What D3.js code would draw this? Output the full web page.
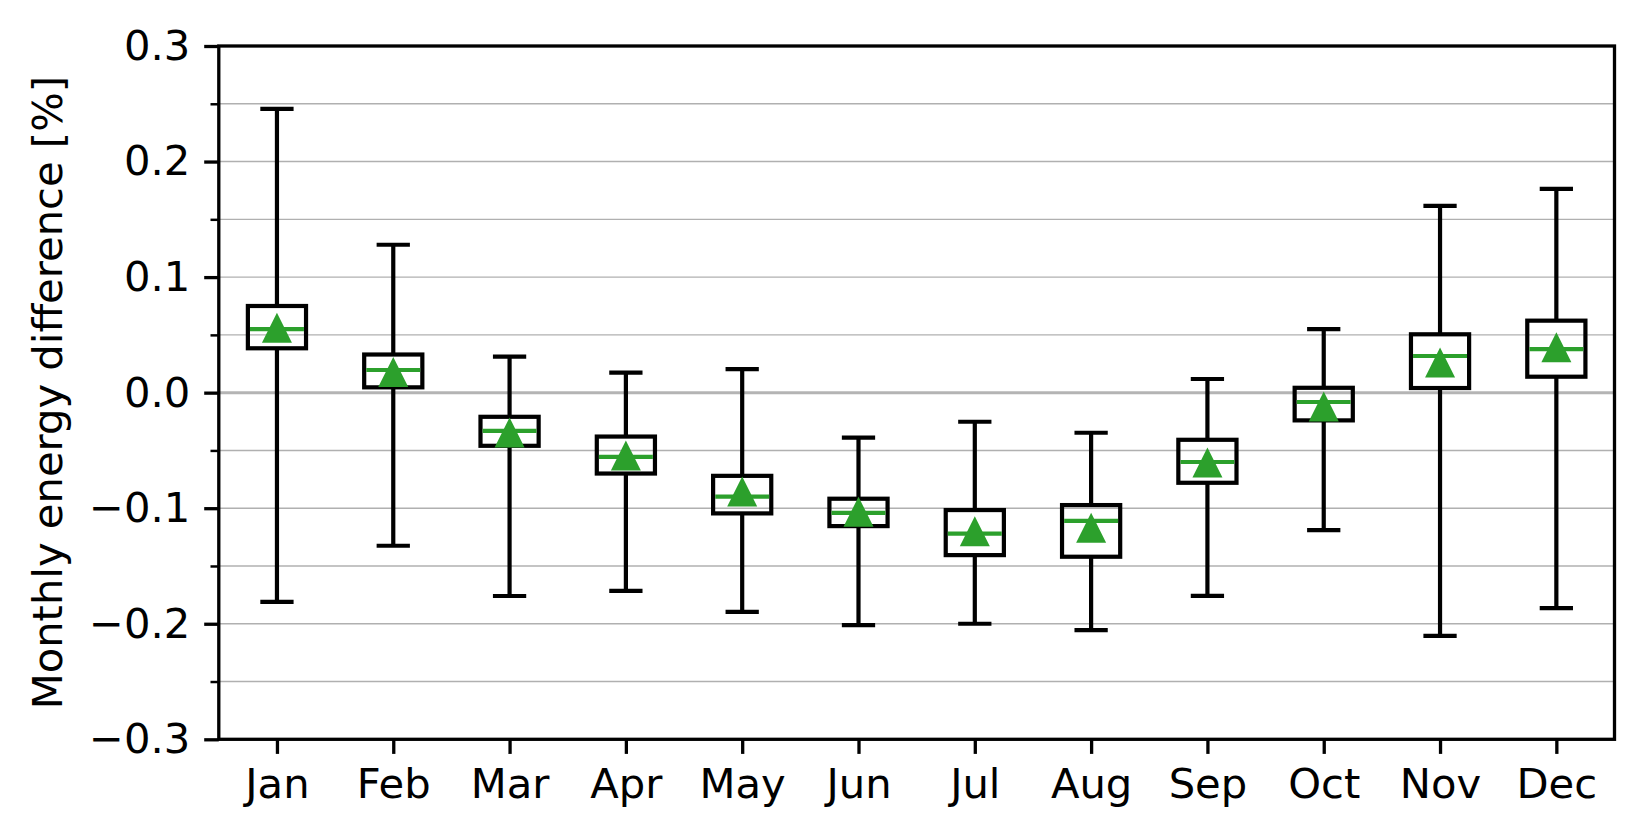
<!DOCTYPE html>
<html>
<head>
<meta charset="utf-8">
<script src="https://cdn.jsdelivr.net/npm/d3@7"></script>
<style>
  body { margin: 0; background: #fff; }
  svg { display: block; }
  text { font-family: "DejaVu Sans", sans-serif; }
</style>
</head>
<body>
<div id="draw"></div>
<script>
// monthly box statistics
var months = ['Jan','Feb','Mar','Apr','May','Jun','Jul','Aug','Sep','Oct','Nov','Dec'];
var whiskerLo = [-0.181, -0.1325, -0.176, -0.1715, -0.1897, -0.2012, -0.200, -0.2055, -0.1758, -0.119, -0.2105, -0.1865];
var q1        = [0.0384, 0.0046, -0.046, -0.070, -0.1045, -0.1155, -0.1406, -0.142, -0.078, -0.024, 0.004, 0.0138];
var medians   = [0.055, 0.0196, -0.033, -0.0555, -0.090, -0.104, -0.122, -0.111, -0.060, -0.0081, 0.0317, 0.0377];
var q3        = [0.075, 0.033, -0.0209, -0.038, -0.072, -0.0918, -0.1016, -0.0973, -0.0408, 0.0042, 0.0505, 0.0623];
var whiskerHi = [0.2455, 0.128, 0.0311, 0.0173, 0.0204, -0.039, -0.0252, -0.0347, 0.0118, 0.055, 0.1616, 0.1763];
var means     = [0.0561, 0.0178, -0.0345, -0.0543, -0.0855, -0.1031, -0.120, -0.117, -0.0604, -0.0119, 0.0262, 0.0392];

var yMajor = [-0.3, -0.2, -0.1, 0.0, 0.1, 0.2, 0.3];
var yMinor = [-0.25, -0.15, -0.05, 0.05, 0.15, 0.25];
var yLabel = 'Monthly energy difference [%]';

var W = 1644, H = 840;
var pLeft = 218.8, pRight = 1614.5, pTop = 46, pBottom = 739.3;
var green = '#2ca02c';
var lw = 4.2;      // box line width
var spineW = 3.3;
var fs = 41.7;

var x = d3.scaleLinear().domain([0.5, 12.5]).range([pLeft, pRight]);
var y = d3.scaleLinear().domain([-0.3, 0.3]).range([pBottom, pTop]);

var svg = d3.select('#draw').append('svg').attr('width', W).attr('height', H);
svg.append('rect').attr('width', W).attr('height', H).attr('fill', '#fff');

// grid (major + minor)
var grid = svg.append('g');
grid.selectAll('line.g')
  .data(yMajor.concat(yMinor))
  .enter().append('line')
  .attr('x1', pLeft).attr('x2', pRight)
  .attr('y1', function(d) { return y(d); })
  .attr('y2', function(d) { return y(d); })
  .attr('stroke', '#b0b0b0')
  .attr('stroke-width', 1.4);
// zero line
grid.append('line')
  .attr('x1', pLeft).attr('x2', pRight)
  .attr('y1', y(0)).attr('y2', y(0))
  .attr('stroke', '#b4b4b4')
  .attr('stroke-width', 3);

var boxW = 0.5, capW = 0.25;
var data = months.map(function(m, i) {
  return {pos: i + 1, lo: whiskerLo[i], q1: q1[i], med: medians[i], q3: q3[i], hi: whiskerHi[i], mean: means[i]};
});

var boxes = svg.append('g').selectAll('g').data(data).enter().append('g');

// whiskers
boxes.append('line')
  .attr('x1', function(d) { return x(d.pos); }).attr('x2', function(d) { return x(d.pos); })
  .attr('y1', function(d) { return y(d.q3); }).attr('y2', function(d) { return y(d.hi); })
  .attr('stroke', '#000').attr('stroke-width', lw);
boxes.append('line')
  .attr('x1', function(d) { return x(d.pos); }).attr('x2', function(d) { return x(d.pos); })
  .attr('y1', function(d) { return y(d.q1); }).attr('y2', function(d) { return y(d.lo); })
  .attr('stroke', '#000').attr('stroke-width', lw);
// caps
['hi', 'lo'].forEach(function(k) {
  boxes.append('line')
    .attr('x1', function(d) { return x(d.pos - capW / 2); })
    .attr('x2', function(d) { return x(d.pos + capW / 2); })
    .attr('y1', function(d) { return y(d[k]); })
    .attr('y2', function(d) { return y(d[k]); })
    .attr('stroke', '#000').attr('stroke-width', lw)
    .attr('stroke-linecap', 'square');
});
// box
boxes.append('rect')
  .attr('x', function(d) { return x(d.pos - boxW / 2); })
  .attr('width', function(d) { return x(d.pos + boxW / 2) - x(d.pos - boxW / 2); })
  .attr('y', function(d) { return y(d.q3); })
  .attr('height', function(d) { return y(d.q1) - y(d.q3); })
  .attr('fill', 'none')
  .attr('stroke', '#000').attr('stroke-width', lw);
// median
boxes.append('line')
  .attr('x1', function(d) { return x(d.pos - boxW / 2) + lw / 2; })
  .attr('x2', function(d) { return x(d.pos + boxW / 2) - lw / 2; })
  .attr('y1', function(d) { return y(d.med); })
  .attr('y2', function(d) { return y(d.med); })
  .attr('stroke', green).attr('stroke-width', lw);
// mean triangle
var tri = 15;
boxes.append('path')
  .attr('d', function(d) {
    var cx = x(d.pos), cy = y(d.mean);
    return 'M' + cx + ',' + (cy - tri) + 'L' + (cx + tri) + ',' + (cy + tri) + 'L' + (cx - tri) + ',' + (cy + tri) + 'Z';
  })
  .attr('fill', green);

// axes
var fmt = function(d) { return d3.format('.1f')(d).replace('-', '\u2212'); };
var yAxis = svg.append('g').attr('transform', 'translate(' + pLeft + ',0)')
  .call(d3.axisLeft(y).tickValues(yMajor).tickFormat(fmt).tickSize(14.6).tickPadding(14))
  .call(function(g) { g.select('.domain').remove(); });
yAxis.selectAll('.tick line').attr('stroke', '#000').attr('stroke-width', spineW);
yAxis.selectAll('.tick text').attr('font-size', fs).attr('fill', '#000')
  .attr('font-family', 'DejaVu Sans');

var yMinorAxis = svg.append('g').attr('transform', 'translate(' + pLeft + ',0)')
  .call(d3.axisLeft(y).tickValues(yMinor).tickFormat('').tickSize(8.3))
  .call(function(g) { g.select('.domain').remove(); });
yMinorAxis.selectAll('.tick line').attr('stroke', '#000').attr('stroke-width', spineW * 0.75);

var xAxis = svg.append('g').attr('transform', 'translate(0,' + pBottom + ')')
  .call(d3.axisBottom(x).tickValues(d3.range(1, 13)).tickFormat(function(d) { return months[d - 1]; })
    .tickSize(14.6).tickPadding(14))
  .call(function(g) { g.select('.domain').remove(); });
xAxis.selectAll('.tick line').attr('stroke', '#000').attr('stroke-width', spineW);
xAxis.selectAll('.tick text').attr('font-size', fs).attr('fill', '#000')
  .attr('font-family', 'DejaVu Sans');

// spines
svg.append('rect')
  .attr('x', pLeft).attr('y', pTop)
  .attr('width', pRight - pLeft).attr('height', pBottom - pTop)
  .attr('fill', 'none').attr('stroke', '#000').attr('stroke-width', spineW);

// y label
svg.append('text')
  .attr('transform', 'translate(62,' + ((pTop + pBottom) / 2) + ') rotate(-90)')
  .attr('text-anchor', 'middle')
  .attr('font-size', fs)
  .attr('fill', '#000')
  .text(yLabel);
</script>
</body>
</html>
